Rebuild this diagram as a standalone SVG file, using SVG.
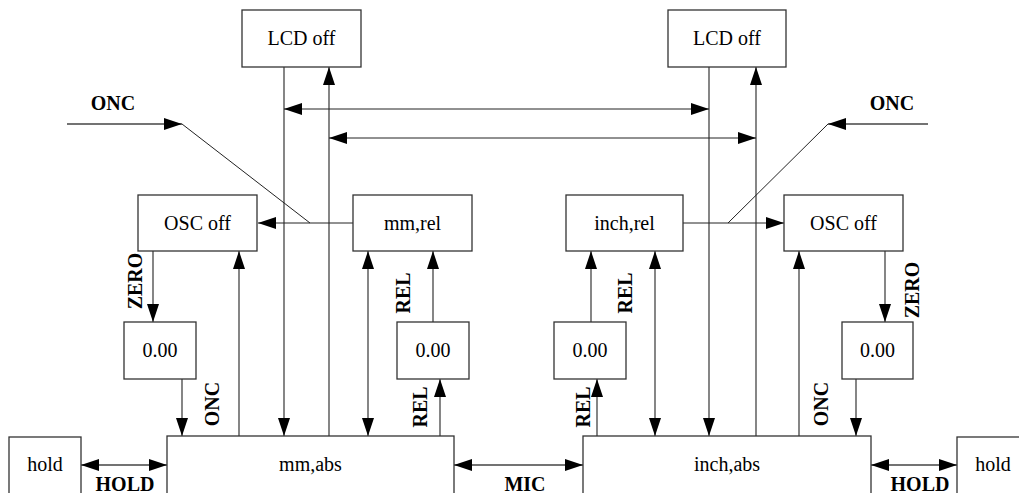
<svg xmlns="http://www.w3.org/2000/svg" width="1019" height="493" viewBox="0 0 1019 493">
<style>
.box{fill:#fff;stroke:#333;stroke-width:1.3}
.t{font-family:"Liberation Serif","Times New Roman",serif;font-size:20px;fill:#000;text-anchor:middle}
.b{font-family:"Liberation Serif","Times New Roman",serif;font-size:20px;font-weight:bold;fill:#000;text-anchor:middle}
.c line,.c path{stroke:#444;stroke-width:1.3;fill:none}
.c .thin{stroke:#222;stroke-width:1}
</style>
<defs>
<marker id="ah" markerUnits="userSpaceOnUse" markerWidth="18" markerHeight="12" refX="18" refY="6" orient="auto-start-reverse">
<path d="M0,0 L18,6 L0,12 z" fill="#000"/>
</marker>
</defs>
<rect width="1019" height="493" fill="#fff"/>
<g class="c" id="connectors">
<line x1="284" y1="67" x2="284" y2="436" marker-end="url(#ah)"/>
<line x1="329" y1="436" x2="329" y2="67" marker-end="url(#ah)"/>
<line x1="709" y1="67" x2="709" y2="436" marker-end="url(#ah)"/>
<line x1="756" y1="436" x2="756" y2="67" marker-end="url(#ah)"/>
<line class="thin" x1="284" y1="109" x2="709" y2="109" marker-start="url(#ah)" marker-end="url(#ah)"/>
<line class="thin" x1="329" y1="138" x2="756" y2="138" marker-start="url(#ah)" marker-end="url(#ah)"/>
<line x1="67" y1="124" x2="182" y2="124" marker-end="url(#ah)"/>
<line class="thin" x1="182" y1="124" x2="310" y2="223"/>
<line class="thin" x1="353" y1="223" x2="258" y2="223" marker-end="url(#ah)"/>
<line class="thin" x1="683" y1="223" x2="784" y2="223" marker-end="url(#ah)"/>
<line class="thin" x1="728" y1="223" x2="828" y2="124"/>
<line x1="928" y1="124" x2="828" y2="124" marker-end="url(#ah)"/>
<line x1="153" y1="251" x2="153" y2="322" marker-end="url(#ah)"/>
<line x1="182" y1="379" x2="182" y2="436" marker-end="url(#ah)"/>
<line x1="239" y1="436" x2="239" y2="251" marker-end="url(#ah)"/>
<line x1="368" y1="251" x2="368" y2="436" marker-start="url(#ah)" marker-end="url(#ah)"/>
<line x1="433" y1="322" x2="433" y2="251" marker-end="url(#ah)"/>
<line x1="440" y1="436" x2="440" y2="379" marker-end="url(#ah)"/>
<line x1="591" y1="322" x2="591" y2="251" marker-end="url(#ah)"/>
<line x1="597" y1="436" x2="597" y2="379" marker-end="url(#ah)"/>
<line x1="655" y1="251" x2="655" y2="436" marker-start="url(#ah)" marker-end="url(#ah)"/>
<line x1="799" y1="436" x2="799" y2="251" marker-end="url(#ah)"/>
<line x1="885" y1="251" x2="885" y2="322" marker-end="url(#ah)"/>
<line x1="856" y1="379" x2="856" y2="436" marker-end="url(#ah)"/>
<line x1="81" y1="465" x2="167" y2="465" marker-start="url(#ah)" marker-end="url(#ah)"/>
<line x1="454" y1="465" x2="583" y2="465" marker-start="url(#ah)" marker-end="url(#ah)"/>
<line x1="871" y1="465" x2="957" y2="465" marker-start="url(#ah)" marker-end="url(#ah)"/>
</g>
<g id="labels">
<text class="b" x="113" y="110">ONC</text>
<text class="b" x="892" y="110">ONC</text>
<text class="b" transform="translate(135,281) rotate(-90)" dy="6.5">ZERO</text>
<text class="b" transform="translate(912,290) rotate(-90)" dy="6.5">ZERO</text>
<text class="b" transform="translate(212,404) rotate(-90)" dy="6.5">ONC</text>
<text class="b" transform="translate(821,404) rotate(-90)" dy="6.5">ONC</text>
<text class="b" transform="translate(403,293) rotate(-90)" dy="6.5">REL</text>
<text class="b" transform="translate(420,407) rotate(-90)" dy="6.5">REL</text>
<text class="b" transform="translate(583,407) rotate(-90)" dy="6.5">REL</text>
<text class="b" transform="translate(625,293) rotate(-90)" dy="6.5">REL</text>
<text class="b" x="125" y="491">HOLD</text>
<text class="b" x="525" y="491">MIC</text>
<text class="b" x="920" y="491">HOLD</text>
</g>
<g id="lcd-left"><rect class="box" x="242" y="10" width="119" height="57"/><text class="t" x="301.5" y="45">LCD off</text></g>
<g id="lcd-right"><rect class="box" x="668" y="10" width="118" height="57"/><text class="t" x="727" y="45">LCD off</text></g>
<g id="osc-left"><rect class="box" x="138" y="195" width="119" height="56"/><text class="t" x="197.5" y="229.5">OSC off</text></g>
<g id="mm-rel"><rect class="box" x="353" y="195" width="119" height="56"/><text class="t" x="412.5" y="229.5">mm,rel</text></g>
<g id="inch-rel"><rect class="box" x="566" y="195" width="117" height="56"/><text class="t" x="624.5" y="229.5">inch,rel</text></g>
<g id="osc-right"><rect class="box" x="784" y="195" width="119" height="56"/><text class="t" x="843.5" y="229.5">OSC off</text></g>
<g id="zero-1"><rect class="box" x="124" y="322" width="72" height="57"/><text class="t" x="160" y="357">0.00</text></g>
<g id="zero-2"><rect class="box" x="397" y="322" width="72" height="57"/><text class="t" x="433" y="357">0.00</text></g>
<g id="zero-3"><rect class="box" x="554" y="322" width="72" height="57"/><text class="t" x="590" y="357">0.00</text></g>
<g id="zero-4"><rect class="box" x="842" y="322" width="71" height="57"/><text class="t" x="877.5" y="357">0.00</text></g>
<g id="hold-left"><rect class="box" x="9" y="437" width="72" height="70"/><text class="t" x="45" y="471">hold</text></g>
<g id="mm-abs"><rect class="box" x="167" y="436" width="287" height="70"/><text class="t" x="310.5" y="471">mm,abs</text></g>
<g id="inch-abs"><rect class="box" x="583" y="436" width="288" height="70"/><text class="t" x="727" y="471">inch,abs</text></g>
<g id="hold-right"><rect class="box" x="957" y="437" width="72" height="70"/><text class="t" x="993" y="471">hold</text></g>
</svg>
